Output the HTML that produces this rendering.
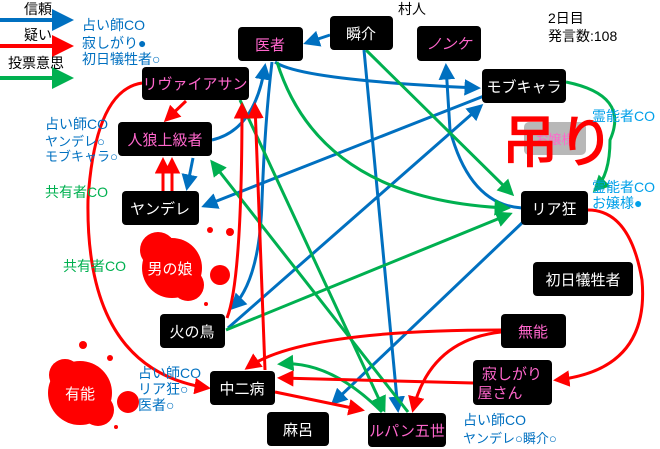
<!DOCTYPE html>
<html><head><meta charset="utf-8"><style>
body{margin:0;background:#fff}
svg{display:block}
text{font-family:"Liberation Sans","Noto Sans CJK JP",sans-serif}
</style></head><body>
<svg width="660" height="449" viewBox="0 0 660 449" xmlns="http://www.w3.org/2000/svg">
<defs>
<marker id="ab" markerWidth="5.5" markerHeight="5.5" refX="4.5" refY="2.75" orient="auto" markerUnits="strokeWidth"><path d="M0,0 L5.5,2.75 L0,5.5z" fill="#0070c0"/></marker>
<marker id="ar" markerWidth="5.5" markerHeight="5.5" refX="4.5" refY="2.75" orient="auto" markerUnits="strokeWidth"><path d="M0,0 L5.5,2.75 L0,5.5z" fill="#ff0000"/></marker>
<marker id="ag" markerWidth="5.5" markerHeight="5.5" refX="4.5" refY="2.75" orient="auto" markerUnits="strokeWidth"><path d="M0,0 L5.5,2.75 L0,5.5z" fill="#00b050"/></marker>
</defs>
<g fill="#ff0000">
<circle cx="172" cy="268" r="30"/><circle cx="158" cy="250" r="18"/><circle cx="188" cy="285" r="16"/>
<circle cx="220" cy="275" r="10"/><circle cx="230" cy="232" r="4"/><circle cx="210" cy="230" r="3"/><circle cx="206" cy="304" r="2"/>
<circle cx="80" cy="393" r="32"/><circle cx="65" cy="375" r="16"/><circle cx="98" cy="410" r="16"/>
<circle cx="128" cy="402" r="11"/><circle cx="83" cy="345" r="4"/><circle cx="110" cy="358" r="3"/><circle cx="116" cy="427" r="2"/>
</g>
<g fill="none" stroke-width="3">
<path d="M330 35 L306 43" stroke="#0070c0" marker-end="url(#ab)"/>
<path d="M275 62 Q300 80 478 88" stroke="#0070c0" marker-end="url(#ab)"/>
<path d="M212 140 Q255 130 265 66" stroke="#0070c0" marker-end="url(#ab)"/>
<path d="M193 158 L187 188" stroke="#0070c0" marker-end="url(#ab)"/>
<path d="M484 96 L204 206" stroke="#0070c0" marker-end="url(#ab)"/>
<path d="M364 50 L398 410" stroke="#0070c0" marker-end="url(#ab)"/>
<path d="M522 208 Q470 205 450 130 L446 66" stroke="#0070c0" marker-end="url(#ab)"/>
<path d="M272 62 Q265 120 262 200 Q260 280 232 308" stroke="#0070c0" marker-end="url(#ab)"/>
<path d="M228 328 L481 106" stroke="#0070c0" marker-end="url(#ab)"/>
<path d="M523 222 L333 403" stroke="#0070c0" marker-end="url(#ab)"/>
<path d="M277 62 Q320 200 508 208" stroke="#00b050" marker-end="url(#ag)"/>
<path d="M366 50 L512 194" stroke="#00b050" marker-end="url(#ag)"/>
<path d="M566 82 Q630 95 610 140 Q610 175 595 190" stroke="#00b050" marker-end="url(#ag)"/>
<path d="M240 100 L384 410" stroke="#00b050" marker-end="url(#ag)"/>
<path d="M226 330 L510 214" stroke="#00b050" marker-end="url(#ag)"/>
<path d="M408 412 L212 162" stroke="#00b050" marker-end="url(#ag)"/>
<path d="M382 412 Q330 360 280 364" stroke="#00b050" marker-end="url(#ag)"/>
<path d="M186 101 L166 120" stroke="#ff0000" marker-end="url(#ar)"/>
<path d="M142 83 Q95 90 88 200 Q85 370 208 388" stroke="#ff0000" marker-end="url(#ar)"/>
<path d="M163 191 L163 160" stroke="#ff0000" marker-end="url(#ar)"/>
<path d="M172 191 L172 160" stroke="#ff0000" marker-end="url(#ar)"/>
<path d="M227 318 Q242 280 242 105" stroke="#ff0000" marker-end="url(#ar)"/>
<path d="M265 370 L255 105" stroke="#ff0000" marker-end="url(#ar)"/>
<path d="M501 330 Q300 330 247 368" stroke="#ff0000" marker-end="url(#ar)"/>
<path d="M501 332 Q430 340 413 410" stroke="#ff0000" marker-end="url(#ar)"/>
<path d="M473 383 L280 378" stroke="#ff0000" marker-end="url(#ar)"/>
<path d="M275 392 L362 410" stroke="#ff0000" marker-end="url(#ar)"/>
<path d="M588 210 Q630 210 642 280 Q650 370 556 380" stroke="#ff0000" marker-end="url(#ar)"/>
<path d="M0 20 L70 20" stroke="#0070c0" stroke-width="4" marker-end="url(#ab)"/>
<path d="M0 46 L70 46" stroke="#ff0000" stroke-width="4" marker-end="url(#ar)"/>
<path d="M0 78 L70 78" stroke="#00b050" stroke-width="4" marker-end="url(#ag)"/>
</g>
<g fill="#000">
<rect x="238" y="27" width="65" height="34" rx="4"/>
<rect x="330" y="16" width="63" height="34" rx="4"/>
<rect x="417" y="26" width="64" height="35" rx="4"/>
<rect x="482" y="69" width="84" height="34" rx="4"/>
<rect x="142" y="67" width="107" height="33" rx="4"/>
<rect x="118" y="122" width="94" height="34" rx="4"/>
<rect x="122" y="191" width="77" height="34" rx="4"/>
<rect x="521" y="191" width="67" height="34" rx="4"/>
<rect x="533" y="262" width="100" height="34" rx="4"/>
<rect x="160" y="314" width="65" height="34" rx="4"/>
<rect x="501" y="314" width="65" height="34" rx="4"/>
<rect x="473" y="360" width="79" height="45" rx="4"/>
<rect x="210" y="371" width="65" height="34" rx="4"/>
<rect x="267" y="412" width="62" height="34" rx="4"/>
<rect x="368" y="413" width="78" height="34" rx="4"/>
</g>
<rect x="524" y="122" width="62" height="33" rx="5" fill="#b8b8b8"/>
<text x="555" y="144" font-size="13" fill="#ff66cc" text-anchor="middle">お嬢様</text>
<text x="558" y="162" font-size="56" fill="#ff0000" stroke="#ff0000" stroke-width="1.5" text-anchor="middle">吊り</text>
<g font-size="15" text-anchor="middle">
<text x="270" y="50" fill="#ff66cc">医者</text>
<text x="361" y="39" fill="#fff">瞬介</text>
<text x="449" y="49" fill="#ff66cc" font-style="italic">ノンケ</text>
<text x="524" y="92" fill="#fff">モブキャラ</text>
<text x="195" y="89" fill="#ff66cc">リヴァイアサン</text>
<text x="165" y="145" fill="#ff66cc">人狼上級者</text>
<text x="160" y="214" fill="#fff">ヤンデレ</text>
<text x="554" y="214" fill="#fff">リア狂</text>
<text x="583" y="285" fill="#fff">初日犠牲者</text>
<text x="192" y="337" fill="#fff">火の鳥</text>
<text x="533" y="337" fill="#ff66cc">無能</text>
<text x="512" y="379" fill="#ff66cc">寂しがり</text>
<text x="500" y="398" fill="#ff66cc">屋さん</text>
<text x="242" y="394" fill="#fff">中二病</text>
<text x="298" y="435" fill="#fff">麻呂</text>
<text x="407" y="436" fill="#ff66cc">ルパン五世</text>
<text x="170" y="274" fill="#fff">男の娘</text>
<text x="80" y="399" fill="#fff">有能</text>
</g>
<g font-size="14">
<text x="24" y="14" fill="#000">信頼</text>
<text x="24" y="40" fill="#000">疑い</text>
<text x="8" y="68" fill="#000">投票意思</text>
<text x="82" y="30" fill="#0070c0">占い師CO</text>
<text x="82" y="48" fill="#0070c0">寂しがり●</text>
<text x="82" y="64" fill="#0070c0">初日犠牲者○</text>
<text x="45" y="129" fill="#0070c0">占い師CO</text>
<text x="45" y="146" fill="#0070c0" font-size="13">ヤンデレ○</text>
<text x="45" y="161" fill="#0070c0" font-size="13">モブキャラ○</text>
<text x="45" y="197" fill="#00b050">共有者CO</text>
<text x="63" y="271" fill="#00b050">共有者CO</text>
<text x="138" y="378" fill="#0070c0">占い師CO</text>
<text x="138" y="394" fill="#0070c0">リア狂○</text>
<text x="138" y="410" fill="#0070c0">医者○</text>
<text x="398" y="14" fill="#000">村人</text>
<text x="548" y="23" fill="#000">2日目</text>
<text x="548" y="41" fill="#000">発言数:108</text>
<text x="592" y="121" fill="#00a0e9">霊能者CO</text>
<text x="592" y="192" fill="#00a0e9">霊能者CO</text>
<text x="592" y="208" fill="#00a0e9">お嬢様●</text>
<text x="463" y="425" fill="#0070c0">占い師CO</text>
<text x="463" y="443" fill="#0070c0" font-size="13">ヤンデレ○瞬介○</text>
</g>
</svg>
</body></html>
